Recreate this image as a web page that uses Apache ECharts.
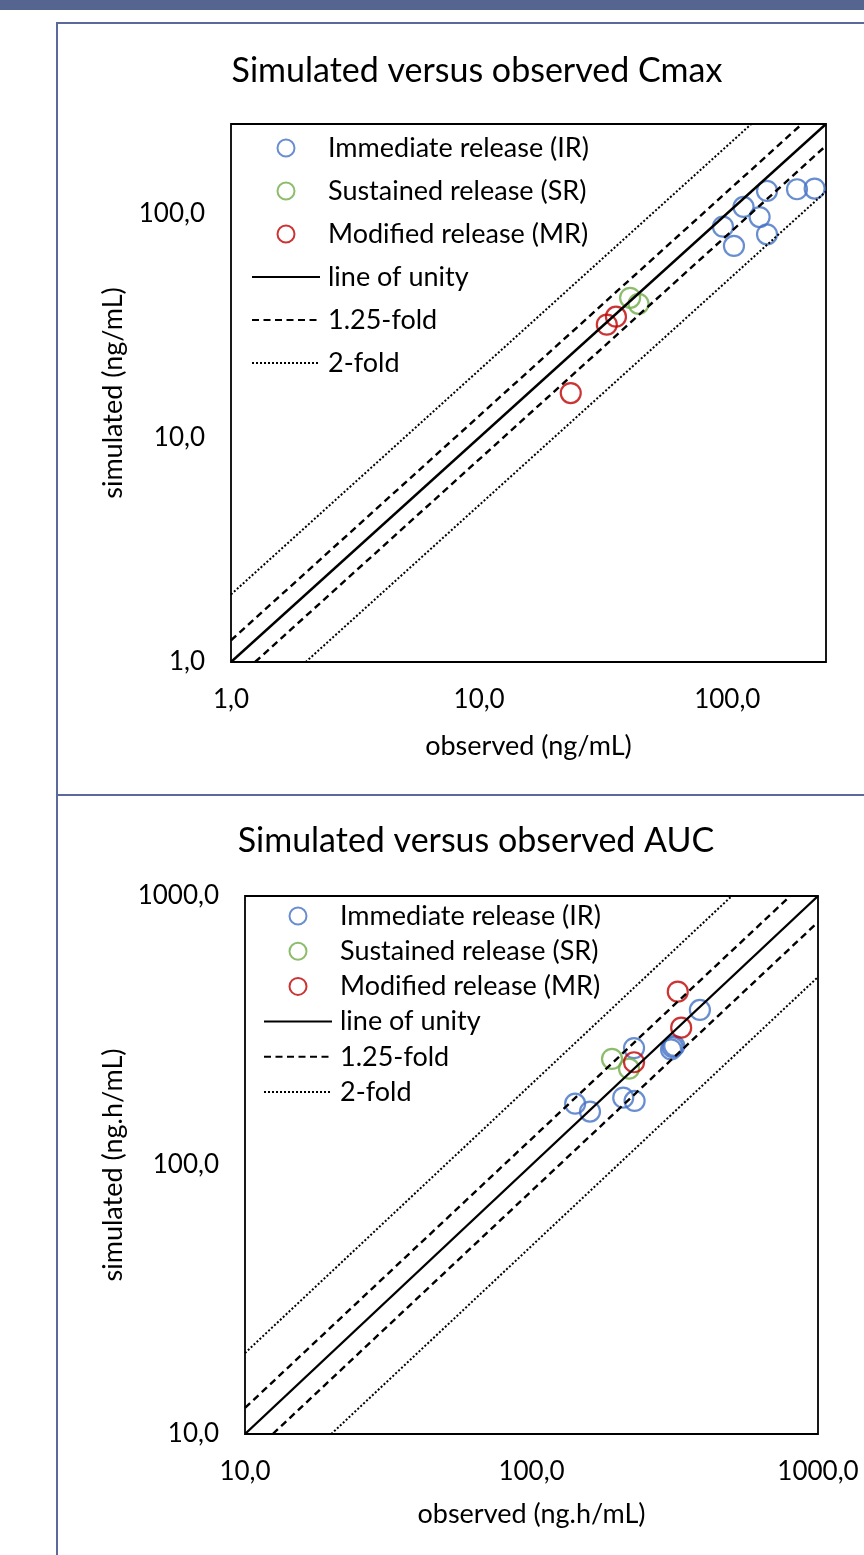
<!DOCTYPE html>
<html>
<head>
<meta charset="utf-8">
<script src="https://cdn.jsdelivr.net/npm/echarts@6/dist/echarts.min.js"></script>
<style>
  html, body { margin: 0; padding: 0; background: #fff; }
  #chart { width: 864px; height: 1555px; }
</style>
</head>
<body>
<div id="chart"></div>
<script>
  // Cmax panel (observed, simulated) in ng/mL
  var cmaxIR = [[144.6, 125.8], [191, 128], [225, 128.9], [116.3, 106.7], [135, 96.2], [96.1, 87.2], [144.6, 80.6], [106.4, 71.5]]
  var cmaxSR = [[40.6, 42.0], [43.9, 39.5]]
  var cmaxMR = [[35.6, 34.6], [32.7, 31.9], [23.4, 15.8]]
  var cmaxUnity = [[1, 1], [250, 250]]
  var cmaxUp125 = [[1, 1.25], [200, 250]]
  var cmaxLo125 = [[1.25, 1], [250, 200]]
  var cmaxUp2 = [[1, 2], [125, 250]]
  var cmaxLo2 = [[2, 1], [250, 125]]

  // AUC panel (observed, simulated) in ng.h/mL
  var aucIR = [[387, 377], [228, 272], [311, 274], [307, 269], [315, 277], [209, 178], [229, 173], [142, 169], [160, 158]]
  var aucSR = [[191, 248], [219, 228]]
  var aucMR = [[324, 441], [333, 324], [228, 241]]
  var aucUnity = [[10, 10], [1000, 1000]]
  var aucUp125 = [[10, 12.5], [800, 1000]]
  var aucLo125 = [[12.5, 10], [1000, 800]]
  var aucUp2 = [[10, 20], [500, 1000]]
  var aucLo2 = [[20, 10], [1000, 500]]

  var legendNames = ['Immediate release (IR)', 'Sustained release (SR)', 'Modified release (MR)', 'line of unity', '1.25-fold', '2-fold']

  var FONT = 'Lato'
  var frameColor = '#5a6a9a'

  var fmt = function (v) {
    var e = Math.log10(v)
    if (Math.abs(e - Math.round(e)) > 1e-6) return ''
    return Math.round(v).toFixed(1).replace('.', ',')
  }

  var axis = function (min, max, name, gap, isY) {
    return {
      type: 'log',
      logBase: 10,
      min: min,
      max: max,
      name: name,
      nameLocation: 'middle',
      nameGap: gap,
      nameTextStyle: { fontFamily: FONT, fontSize: 27, color: '#000' },
      axisLine: { show: false },
      axisTick: { show: false },
      splitLine: { show: false },
      axisLabel: {
        fontFamily: FONT,
        fontSize: 26,
        color: '#000',
        margin: isY ? 26 : 25,
        showMaxLabel: min === 1 ? false : true,
        formatter: fmt
      }
    }
  }

  var dots = function (name, data, color, gi) {
    return {
      name: name,
      type: 'scatter',
      xAxisIndex: gi,
      yAxisIndex: gi,
      symbol: 'circle',
      symbolSize: 20,
      itemStyle: { color: 'rgba(255,255,255,0)', borderColor: color, borderWidth: 2.2 },
      data: data
    }
  }

  var ref = function (name, data, type, width, gi) {
    return {
      name: name,
      type: 'line',
      xAxisIndex: gi,
      yAxisIndex: gi,
      symbol: 'none',
      silent: true,
      itemStyle: { color: 'rgba(0,0,0,0)', borderWidth: 0 },
      lineStyle: { color: '#000', width: width, type: type },
      data: data
    }
  }

  var dashed = [7, 4.5]
  var dotted = [2, 2]

  var chart = echarts.init(document.getElementById('chart'))

  var titleStyle = { fontFamily: FONT, fontSize: 34, fontWeight: 'normal', color: '#000' }
  var legendText = { fontFamily: FONT, fontSize: 27, lineHeight: 28, color: '#000', padding: [0, 0, 0, 3] }

  var option = {
    animation: false,
    backgroundColor: '#fff',
    title: [
      { text: 'Simulated versus observed Cmax', left: 472, top: 49, textAlign: 'center', textStyle: titleStyle },
      { text: 'Simulated versus observed AUC', left: 471, top: 819, textAlign: 'center', textStyle: titleStyle }
    ],
    legend: [
      {
        orient: 'vertical', left: 251, top: 134, padding: 0,
        itemWidth: 68, itemHeight: 17, itemGap: 15,
        textStyle: legendText,
        data: legendNames
      },
      {
        orient: 'vertical', left: 263, top: 902, padding: 0,
        itemWidth: 68, itemHeight: 17, itemGap: 7.2,
        textStyle: legendText,
        data: legendNames
      }
    ],
    grid: [
      { left: 231, top: 124, width: 595, height: 538, show: true, borderColor: '#000', borderWidth: 1.8, backgroundColor: 'transparent' },
      { left: 245, top: 896, width: 573, height: 538, show: true, borderColor: '#000', borderWidth: 1.8, backgroundColor: 'transparent' }
    ],
    xAxis: [
      Object.assign(axis(1, 250, 'observed (ng/mL)', 71, false), { gridIndex: 0 }),
      Object.assign(axis(10, 1000, 'observed (ng.h/mL)', 67, false), { gridIndex: 1 })
    ],
    yAxis: [
      Object.assign(axis(1, 250, 'simulated (ng/mL)', 104, true), { gridIndex: 0 }),
      Object.assign(axis(10, 1000, 'simulated (ng.h/mL)', 118, true), { gridIndex: 1 })
    ],
    graphic: [
      { type: 'rect', shape: { x: 0, y: 0, width: 864, height: 10 }, style: { fill: '#556590' }, silent: true },
      { type: 'line', shape: { x1: 57, y1: 23, x2: 864, y2: 23 }, style: { stroke: frameColor, lineWidth: 2 }, silent: true },
      { type: 'line', shape: { x1: 57, y1: 22, x2: 57, y2: 1555 }, style: { stroke: frameColor, lineWidth: 2 }, silent: true },
      { type: 'line', shape: { x1: 57, y1: 795, x2: 864, y2: 795 }, style: { stroke: frameColor, lineWidth: 2 }, silent: true }
    ],
    series: [
      dots('Immediate release (IR)', cmaxIR, '#4472c4', 0),
      dots('Sustained release (SR)', cmaxSR, '#70ad47', 0),
      dots('Modified release (MR)', cmaxMR, '#c00000', 0),
      ref('line of unity', cmaxUnity, 'solid', 2.4, 0),
      ref('1.25-fold', cmaxUp125, dashed, 2.4, 0),
      ref('1.25-fold', cmaxLo125, dashed, 2.4, 0),
      ref('2-fold', cmaxUp2, dotted, 2, 0),
      ref('2-fold', cmaxLo2, dotted, 2, 0),

      dots('Immediate release (IR)', aucIR, '#4472c4', 1),
      dots('Sustained release (SR)', aucSR, '#70ad47', 1),
      dots('Modified release (MR)', aucMR, '#c00000', 1),
      ref('line of unity', aucUnity, 'solid', 2.4, 1),
      ref('1.25-fold', aucUp125, dashed, 2.4, 1),
      ref('1.25-fold', aucLo125, dashed, 2.4, 1),
      ref('2-fold', aucUp2, dotted, 2, 1),
      ref('2-fold', aucLo2, dotted, 2, 1)
    ]
  }

  chart.setOption(option)
</script>
</body>
</html>
